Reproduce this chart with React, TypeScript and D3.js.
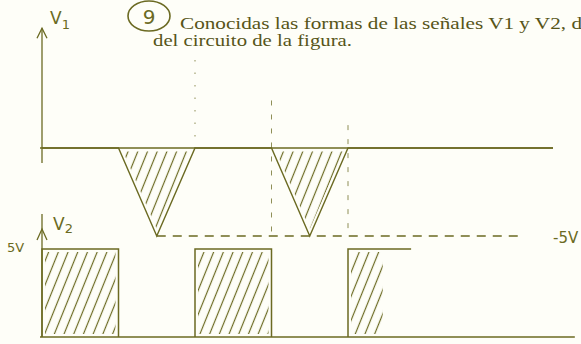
import React from "react";
import * as d3 from "d3";

// V1 waveform: flat at 0 V with two triangular dips to -5 V
const v1Time = [0, 2, 3, 4, 6, 7, 8, 13.36];
const v1Volts = [0, 0, -5, 0, 0, -5, 0, 0];

// V2 waveform: 5 V pulses on a 0 V baseline (last one open on the right)
const pulseStart = [0, 4, 8];
const pulseEnd = [2, 6, 9.65];
const pulseClosed = [true, true, false];
const pulseLevel = 5;
const v2BaselineEnd = 13.93;

// Reference level and guide lines
const refLevel = -5;
const refFrom = 3;
const refTo = 12.6;
const guideTime = [4, 6, 8];
const guideTop = [5.0, 2.7, 1.3];
const guideBottom = [0, -5, -5];

// Text
const titleLine1 = "Conocidas las formas de las señales V1 y V2, d";
const titleLine2 = "del circuito de la figura.";
const problemNo = "9";
const v1Name = "V";
const v1Sub = "1";
const v2Name = "V";
const v2Sub = "2";
const v2Tick = "5V";
const refTick = "-5V";

const W = 581;
const H = 344;
const INK = "#6b6a22";
const TEXT = "#575518";

export default function App() {
  const x = d3.scaleLinear().domain([0, 14]).range([42, 42 + 14 * 38.25]);
  const y1 = d3.scaleLinear().domain([-5, 0]).range([236, 148]);
  const y2 = d3.scaleLinear().domain([0, 5]).range([337, 249]);

  const pts = v1Time.map((t, i) => [t, v1Volts[i]] as [number, number]);
  const line1 = d3
    .line<[number, number]>()
    .x((d) => x(d[0]))
    .y((d) => y1(d[1]));

  // triangles: each dip point with its neighbours
  const dips = pts
    .map((p, i) => ({ p, i }))
    .filter(({ p }) => p[1] < 0)
    .map(({ i }) => [pts[i - 1], pts[i], pts[i + 1]]);

  const shrink = (tri: [number, number][], k: number) => {
    const px = tri.map((d) => [x(d[0]), y1(d[1])]);
    const cx = d3.mean(px, (d) => d[0])!;
    const cy = d3.mean(px, (d) => d[1])!;
    return px.map((d) => [cx + (d[0] - cx) * k, cy + (d[1] - cy) * k]);
  };

  return (
    <svg width={W} height={H} style={{ position: "absolute", left: 0, top: 0, background: "#fefef8" }}>
      <defs>
        <pattern id="hatch" width={9} height={9} patternUnits="userSpaceOnUse" patternTransform="rotate(22)">
          <line x1={4.5} y1={-1} x2={4.5} y2={10} stroke={INK} strokeWidth={1.2} />
        </pattern>
        {dips.map((tri, i) => (
          <clipPath id={`tri${i}`} key={i}>
            <polygon points={shrink(tri, 0.88).map((d) => d.join(",")).join(" ")} />
          </clipPath>
        ))}
      </defs>
      <rect x={0} y={0} width={W} height={H} fill="#fefef8" />

      {/* heading */}
      <ellipse cx={149} cy={16} rx={21} ry={15} fill="none" stroke={INK} strokeWidth={1.6} />
      <text x={149} y={24} textAnchor="middle" fontFamily="DejaVu Sans" fontSize={20} fill={INK}>
        {problemNo}
      </text>
      <text x={180} y={29} fontFamily="Liberation Serif" fontSize={17} fill={TEXT} textLength={402} lengthAdjust="spacingAndGlyphs">
        {titleLine1}
      </text>
      <text x={153} y={46} fontFamily="Liberation Serif" fontSize={17} fill={TEXT} textLength={199} lengthAdjust="spacingAndGlyphs">
        {titleLine2}
      </text>

      {/* V1 axis */}
      <line x1={x(0)} y1={163} x2={x(0)} y2={y1(6.8)} stroke={INK} strokeWidth={1.3} />
      <path d={`M${x(0) - 5},${y1(6.8) + 10} L${x(0)},${y1(6.8)} L${x(0) + 5},${y1(6.8) + 10}`} fill="none" stroke={INK} strokeWidth={1.3} />
      <text x={50} y={24} fontFamily="DejaVu Sans" fontSize={17} fill={INK}>
        {v1Name}
        <tspan fontSize={13} dy={5}>{v1Sub}</tspan>
      </text>

      {/* guides */}
      {guideTime.map((t, i) => (
        <line
          key={i}
          x1={x(t)}
          x2={x(t)}
          y1={y1(guideTop[i])}
          y2={y1(guideBottom[i])}
          stroke={INK}
          strokeWidth={1}
          strokeDasharray={i === 0 ? "1.5,11" : "5,9"}
          opacity={0.75}
        />
      ))}
      <line x1={x(refFrom)} x2={x(refTo)} y1={y1(refLevel)} y2={y1(refLevel)} stroke={INK} strokeWidth={1.4} strokeDasharray="9,7" />
      <text x={553} y={243} fontFamily="DejaVu Sans" fontSize={15} fill={INK}>
        {refTick}
      </text>

      {/* V1 trace: zero line across the whole width, then the dips */}
      <line x1={40} x2={x(v1Time[v1Time.length - 1])} y1={y1(0)} y2={y1(0)} stroke={INK} strokeWidth={1.4} />
      {dips.map((tri, i) => (
        <rect
          key={i}
          x={x(tri[0][0])}
          y={y1(0)}
          width={x(tri[2][0]) - x(tri[0][0])}
          height={y1(-5) - y1(0)}
          fill="url(#hatch)"
          clipPath={`url(#tri${i})`}
        />
      ))}
      <path d={line1(pts)!} fill="none" stroke={INK} strokeWidth={1.4} />

      {/* V2 axis */}
      <line x1={x(0)} y1={y2(0)} x2={x(0)} y2={214} stroke={INK} strokeWidth={1.3} />
      <path d={`M${x(0) - 5},${240} L${x(0)},${229} L${x(0) + 5},${240}`} fill="none" stroke={INK} strokeWidth={1.3} />
      <text x={53} y={230} fontFamily="DejaVu Sans" fontSize={17} fill={INK}>
        {v2Name}
        <tspan fontSize={13} dy={3}>{v2Sub}</tspan>
      </text>
      <text x={7} y={252} fontFamily="DejaVu Sans" fontSize={13} fill={INK}>
        {v2Tick}
      </text>

      {/* V2 pulses */}
      <line x1={40} x2={x(v2BaselineEnd)} y1={y2(0)} y2={y2(0)} stroke={INK} strokeWidth={1.5} />
      {pulseStart.map((s, i) => {
        const x0 = x(s);
        const x1 = x(pulseEnd[i]);
        const top = y2(pulseLevel);
        const bot = y2(0);
        const hatchRight = pulseClosed[i] ? x1 - 3 : x0 + (x1 - x0) * 0.55;
        return (
          <g key={i}>
            <rect x={x0 + 3} y={top + 3} width={hatchRight - x0 - 3} height={bot - top - 6} fill="url(#hatch)" />
            <path
              d={
                pulseClosed[i]
                  ? `M${x0},${bot} L${x0},${top} L${x1},${top} L${x1},${bot}`
                  : `M${x0},${bot} L${x0},${top} L${x1},${top}`
              }
              fill="none"
              stroke={INK}
              strokeWidth={1.5}
            />
          </g>
        );
      })}
    </svg>
  );
}
